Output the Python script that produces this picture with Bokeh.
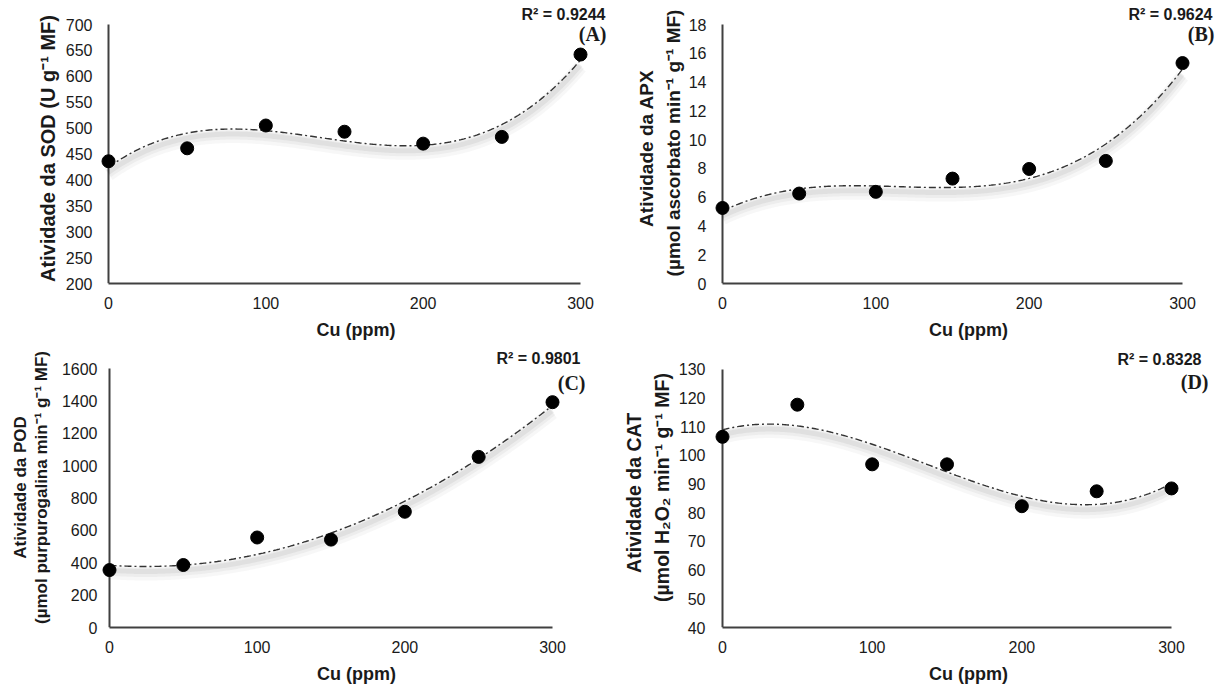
import numpy as np
from bokeh.plotting import figure
from bokeh.layouts import column, row
from bokeh.models import Label, Range1d
from bokeh.embed import file_html
from bokeh.resources import INLINE

# ---------------- data ----------------
cu_ppm = [0, 50, 100, 150, 200, 250, 300]
sod = [436, 461, 505, 493, 470, 483, 642]
apx = [5.25, 6.25, 6.37, 7.29, 7.96, 8.52, 15.32]
pod = [355, 386, 556, 543, 715, 1054, 1392]
cat = [106.5, 117.7, 96.9, 96.9, 82.3, 87.5, 88.5]

x_ticks = [0, 100, 200, 300]
sod_ticks = [200, 250, 300, 350, 400, 450, 500, 550, 600, 650, 700]
apx_ticks = [0, 2, 4, 6, 8, 10, 12, 14, 16, 18]
pod_ticks = [0, 200, 400, 600, 800, 1000, 1200, 1400, 1600]
cat_ticks = [40, 50, 60, 70, 80, 90, 100, 110, 120, 130]

r2_texts = ["R\u00b2 = 0.9244", "R\u00b2 = 0.9624", "R\u00b2 = 0.9801", "R\u00b2 = 0.8328"]
letters = ["(A)", "(B)", "(C)", "(D)"]
fit_degree = [3, 3, 2, 3]

x_title = "Cu (ppm)"
y_titles = [
    "Atividade  da  SOD (U g\u207b\u00b9 MF)",
    "Atividade  da  APX\n(\u00b5mol ascorbato min\u207b\u00b9 g\u207b\u00b9 MF)",
    "Atividade da POD\n(\u00b5mol purpurogalina min\u207b\u00b9 g\u207b\u00b9 MF)",
    "Atividade  da  CAT\n(\u00b5mol H\u2082O\u2082 min\u207b\u00b9 g\u207b\u00b9 MF)",
]

SANS = "Liberation Sans"
SERIF = "Liberation Serif"
TXT = "#1a1a1a"
AX = "#404040"


def panel(yvals, deg, yticks, ytitle, r2, letter, org, size,
          px0, px300, py_top, py_bot, lab_standoff, title_standoff, title_size,
          title_lh, r2_pos, let_pos):
    ox, oy = org
    fw, fh = size
    s = (px300 - px0) / 300.0
    y0, y1 = yticks[0], yticks[-1]
    upp = (y1 - y0) / float(py_bot - py_top)
    f_left = px0 - 9
    f_right = ox + fw - 2
    f_top = oy + 2
    f_bot = py_bot
    xr = Range1d((f_left - px0) / s, 300 + (f_right - px300) / s)
    yr = Range1d(y0, y1 + (py_top - f_top) * upp)
    p = figure(width=fw, height=fh, output_backend="svg", toolbar_location=None,
               x_range=xr, y_range=yr,
               min_border_left=f_left - ox, min_border_right=ox + fw - f_right,
               min_border_top=f_top - oy, min_border_bottom=oy + fh - f_bot)
    p.outline_line_color = None
    p.grid.grid_line_color = None

    for ax in (p.xaxis, p.yaxis):
        ax.major_tick_line_color = None
        ax.minor_tick_line_color = None
        ax.major_tick_out = 0
        ax.major_tick_in = 0
        ax.minor_tick_out = 0
        ax.major_label_text_font = SANS
        ax.major_label_text_font_size = "16px"
        ax.major_label_text_color = TXT
        ax.axis_label_text_font = SANS
        ax.axis_label_text_font_style = "bold"
        ax.axis_label_text_color = TXT

    p.xaxis.ticker = x_ticks
    p.xaxis.bounds = (0, 300)
    p.xaxis.axis_line_color = AX
    p.xaxis.axis_line_width = 2
    p.xaxis.major_label_standoff = 13
    p.xaxis.axis_label = x_title
    p.xaxis.axis_label_text_font_size = "18px"
    p.xaxis.axis_label_standoff = 8

    p.yaxis.ticker = yticks
    p.yaxis.axis_line_color = None
    p.yaxis.major_label_standoff = lab_standoff
    p.yaxis.axis_label = ytitle
    p.yaxis.axis_label_text_font_size = title_size
    p.yaxis.axis_label_standoff = title_standoff
    p.yaxis.axis_label_text_line_height = title_lh

    # vertical axis line at Cu = 0, spanning the tick range
    p.segment(x0=[0], y0=[y0], x1=[0], y1=[y1], line_color=AX, line_width=2)

    xs = np.linspace(0, 300, 301)
    coef = np.polyfit(cu_ppm, yvals, deg)
    ys = np.polyval(coef, xs)
    for w, a, off in ((14, 0.03, 7), (9, 0.04, 6), (5, 0.05, 5)):
        p.line(xs, ys - off * upp, line_width=w, line_color="#000000", line_alpha=a)
    p.line(xs, ys, line_width=1.4, line_color="#333333", line_dash="7 3 2 3")
    p.scatter(cu_ppm, yvals, marker="circle", size=13, fill_color="black", line_color="black")

    def to_data(pos):
        return (pos[0] - px0) / s, y0 + (py_bot - pos[1]) * upp

    rx, ry = to_data(r2_pos)
    lx, ly = to_data(let_pos)
    p.add_layout(Label(x=rx, y=ry, text=r2, text_align="right", text_baseline="middle",
                       text_font=SANS, text_font_style="bold", text_font_size="16px",
                       text_color=TXT))
    p.add_layout(Label(x=lx, y=ly, text=letter, text_align="right", text_baseline="middle",
                       text_font=SERIF, text_font_style="bold", text_font_size="20px",
                       text_color=TXT))
    return p


pA = panel(sod, fit_degree[0], sod_ticks, y_titles[0], r2_texts[0], letters[0],
           (0, 0), (614, 345), 108, 580, 24, 283, 7, 4, "20px", 1.2,
           (605, 14), (606, 33))
pB = panel(apx, fit_degree[1], apx_ticks, y_titles[1], r2_texts[1], letters[1],
           (614, 0), (611, 345), 722, 1182, 24, 283, 7, 2, "19px", 1.26,
           (1212, 14), (1214, 33))
pC = panel(pod, fit_degree[2], pod_ticks, y_titles[2], r2_texts[2], letters[2],
           (0, 345), (614, 342), 109, 552, 368, 627, 3, 8, "17px", 1.12,
           (580, 358), (585, 382))
pD = panel(cat, fit_degree[3], cat_ticks, y_titles[3], r2_texts[3], letters[3],
           (614, 345), (611, 342), 722, 1171, 369, 628, 8, 3, "19.5px", 1.26,
           (1201, 359), (1208, 382))

layout = column(row(pA, pB), row(pC, pD))
open("out.html", "w").write(file_html(layout, INLINE))
